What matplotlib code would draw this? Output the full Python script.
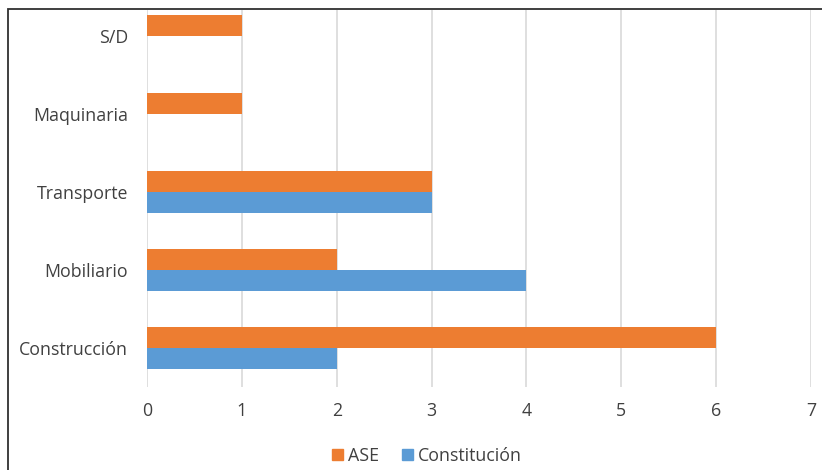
import matplotlib.pyplot as plt
import numpy as np
from matplotlib.patches import Rectangle, Patch

categories = ['Construcción', 'Mobiliario', 'Transporte', 'Maquinaria', 'S/D']
ase = [6, 2, 3, 1, 1]
constitucion = [2, 4, 3, 0, 0]
series_labels = ['ASE', 'Constitución']

ORANGE = '#ED7D31'
BLUE = '#5B9BD5'
TEXT = '#404040'
GRID = '#D9D9D9'

plt.rcParams['font.family'] = ['Open Sans', 'DejaVu Sans']

W, H = 822, 470
fig = plt.figure(figsize=(W / 100, H / 100), dpi=100)

# plot area in pixel terms: x 147..811, y 10..387
left, right, top, bottom = 147, 811, 10, 387
ax = fig.add_axes([left / W, 1 - bottom / H, (right - left) / W, (bottom - top) / H])

y = np.arange(len(categories))
bh = 0.27
ax.barh(y + bh / 2, ase, height=bh, color=ORANGE, label=series_labels[0], zorder=3)
ax.barh(y - bh / 2, constitucion, height=bh, color=BLUE, label=series_labels[1], zorder=3)

ax.set_xlim(0, 7)
ax.set_ylim(-0.5, 4 + 26 / 78)
ax.set_xticks(range(8))
ax.set_yticks(y)
ax.set_yticklabels(categories)
ax.grid(axis='x', color=GRID, linewidth=1.2, zorder=0)
for s in ax.spines.values():
    s.set_visible(False)
ax.tick_params(axis='y', length=0, pad=13.5, labelsize=12.8, labelcolor=TEXT)
ax.tick_params(axis='x', length=0, pad=11, labelsize=12.8, labelcolor=TEXT)

handles = [Patch(color=ORANGE), Patch(color=BLUE)]
fig.legend(handles, series_labels, loc='center', bbox_to_anchor=(427 / W, 1 - 456 / H),
           ncol=2, frameon=False, fontsize=12.8, labelcolor=TEXT,
           handlelength=0.6, handleheight=0.6, handletextpad=0.3, columnspacing=1.3)

# chart border (left and top edges visible in the crop)
fig.add_artist(Rectangle((8 / W, -0.1), 1.2, 1 - 9 / H + 0.1, transform=fig.transFigure,
                         fill=False, edgecolor='#303030', linewidth=1.3))

fig.savefig('out.png', dpi=100)
